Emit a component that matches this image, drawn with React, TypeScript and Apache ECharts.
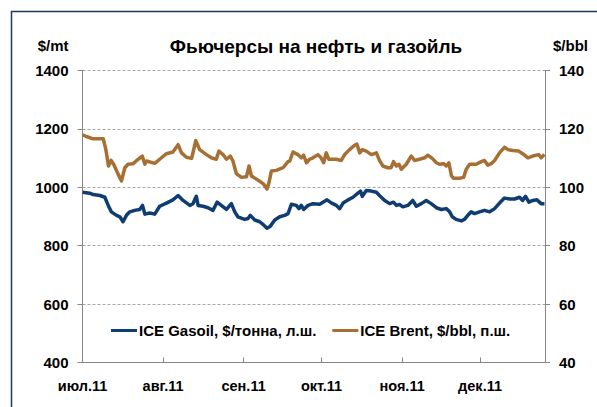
import React, { useEffect, useRef } from 'react';
import * as echarts from 'echarts';

// x values are calendar days counted from 1 July 2011
const monthStarts = [0, 31, 62, 92, 123, 153];
const monthLabels = ['июл.11', 'авг.11', 'сен.11', 'окт.11', 'ноя.11', 'дек.11'];

const gasoilDays = [
  0, 2.8, 4.1, 6.7, 8.6, 9.9, 11.1, 13.1, 14.4, 15.6, 16.9, 18.2, 20.1, 22, 23.1, 24, 25.9, 27.8, 29.7,
  32.3, 34.8, 36.8, 38.7, 41.3, 42.5, 43.8, 44.5, 46.4, 48.3, 50.2, 51.8, 53.4, 55.4, 57.3, 58.6, 59.8,
  62.4, 63.7, 64.6, 66.3, 68.2, 69.7, 71, 72.3, 74, 75.9, 77.8, 79.1, 80.4, 82.3, 83.3, 84.2, 85.1, 86.8,
  88.7, 91.3, 94.1, 95.9, 97.7, 99, 100.3, 102.2, 104.1, 106, 107, 107.7, 109.2, 111.2, 113.1, 114.3,
  116.3, 118.2, 119.7, 120.8, 122, 123.3, 125.2, 127.1, 128.5, 130.4, 132.3, 134.2, 136.2, 138.1, 140,
  141.3, 142.3, 143.8, 145.8, 147, 148.3, 149.6, 150.9, 152.8, 154.7, 156.7, 158.6, 160.5, 162.4, 164.4,
  166.3, 168.2, 169.4, 170.5, 171.8, 173.3, 174.9, 176.5, 177.8,
];
const gasoilValues = [
  983, 980, 975, 972, 966, 938, 916, 904, 899, 882, 904, 916, 921, 924, 938, 908, 912, 908, 935,
  946, 957, 972, 955, 938, 944, 969, 938, 935, 930, 921, 949, 938, 924, 944, 916, 899,
  890, 893, 904, 888, 882, 871, 860, 867, 888, 899, 904, 910, 942, 938, 927, 938, 924, 938,
  944, 942, 957, 946, 938, 927, 946, 957, 966, 980, 987, 969, 989, 987, 983, 972,
  955, 944, 949, 938, 941, 933, 938, 955, 935, 944, 955, 944, 930, 924, 927,
  916, 899, 890, 885, 890, 904, 916, 910, 916, 921, 916, 927, 946, 963, 960,
  960, 966, 955, 969, 949, 955, 957, 944, 944,
];

const brentDays = [
  0, 1.5, 4, 8, 9, 10, 11, 12, 13.7, 15, 16.3, 17.5, 19.5, 21.4, 23, 24, 24.6, 27.8, 29.7, 32.3, 34.8,
  36.8, 38.1, 40, 42, 43.6, 45.1, 47.7, 49.6, 51.5, 52.5, 54.1, 55.4, 56.9, 57.9, 59.2, 61.2, 63.1, 64.1,
  65, 66.9, 68.8, 69.7, 71, 71.8, 72.7, 74.6, 77.2, 79.1, 79.8, 81, 82.9, 84.2, 85.1, 86.2, 87.4, 88.7,
  90.6, 91.8, 92.8, 93.8, 94.8, 97.7, 99.6, 100.9, 102.8, 104.7, 105.6, 106.7, 107.7, 109.2, 111.2, 113.1,
  114.3, 115.6, 117.5, 118.8, 119.7, 120.8, 121.8, 122.7, 124.6, 126.5, 127.8, 129.7, 131.7, 132.9, 134.6,
  136.2, 137.4, 139, 140, 141, 142, 142.8, 145.1, 146.7, 147.7, 149, 151.5, 153.5, 154.7, 156, 157.3,
  158.6, 160.5, 162.4, 163.7, 165.6, 167.9, 169.4, 171.4, 173.3, 175.6, 176.5, 177.8,
];
const brentValues = [
  118.0, 117.4, 116.6, 116.6, 112.9, 107.3, 109.2, 107.9, 104.5, 102.2, 106.7, 107.9, 108.1, 109.6, 110.7,
  107.9, 109.0, 108.2, 109.6, 111.5, 112.1, 114.6, 111.8, 110.3, 109.9, 116.0, 112.9, 111.2, 110.1, 109.6,
  112.4, 111.2, 109.6, 110.7, 109.0, 104.7, 103.4, 103.6, 107.3, 103.9, 102.8, 101.7, 101.1, 99.4, 101.7,
  105.6, 105.8, 106.7, 108.8, 109.0, 112.1, 111.2, 110.1, 111.0, 108.4, 109.6, 110.1, 111.2, 110.1, 108.4,
  111.8, 109.6, 109.6, 109.2, 111.2, 112.9, 114.4, 114.8, 111.8, 112.9, 112.4, 111.2, 111.8, 109.2, 107.3,
  106.7, 106.7, 108.8, 107.3, 107.9, 106.2, 107.9, 110.7, 109.2, 109.6, 110.1, 111.0, 109.9, 108.4, 107.9,
  108.1, 107.3, 108.4, 103.9, 103.1, 103.1, 103.4, 106.2, 107.9, 107.9, 108.8, 109.2, 107.6, 108.1, 109.2,
  111.8, 113.7, 112.9, 112.6, 112.4, 111.5, 110.1, 110.7, 111.2, 110.1, 111.2,
];

const FONT = '"Liberation Sans", Arial, sans-serif';
const AXIS_GRAY = '#868686';

export default function App() {
  const ref = useRef<HTMLDivElement>(null);
  useEffect(() => {
    if (!ref.current) return;
    const chart = echarts.init(ref.current, undefined, { renderer: 'svg' });
    const labelStyle = { color: '#000', fontWeight: 'bold' as const, fontSize: 15, fontFamily: FONT };
    chart.setOption({
      animation: false,
      backgroundColor: '#fff',
      textStyle: { fontFamily: FONT },
      title: {
        text: 'Фьючерсы на нефть и газойль',
        left: 311,
        textAlign: 'center',
        top: 32,
        textStyle: { color: '#000', fontWeight: 'bold', fontSize: 19, fontFamily: FONT },
      },
      graphic: [
        {
          type: 'rect',
          shape: { x: 11.5, y: 11.5, width: 700, height: 500 },
          style: { fill: 'none', stroke: '#1F3864', lineWidth: 1.5 },
          silent: true,
        },
      ],
      legend: {
        left: 106,
        top: 318,
        icon: 'rect',
        itemWidth: 26,
        itemHeight: 3,
        itemGap: 16,
        textStyle: { ...labelStyle, padding: [0, 0, 0, -3] },
        data: ['ICE Gasoil, $/тонна, л.ш.', 'ICE Brent, $/bbl, п.ш.'],
      },
      grid: { left: 82.5, right: 52, top: 70.5, bottom: 44.5, containLabel: false },
      xAxis: {
        type: 'value',
        min: 0,
        max: 178,
        splitLine: { show: false },
        axisLine: { lineStyle: { color: AXIS_GRAY, width: 1 } },
        axisTick: { customValues: monthStarts, inside: true, length: 5, lineStyle: { color: AXIS_GRAY } },
        axisLabel: {
          ...labelStyle,
          fontSize: 14.5,
          customValues: monthStarts,
          margin: 16,
          formatter: (v: number) => monthLabels[monthStarts.indexOf(v)] ?? '',
        },
      },
      yAxis: [
        {
          type: 'value',
          min: 400,
          max: 1400,
          interval: 200,
          position: 'left',
          name: '$/mt',
          nameLocation: 'end',
          nameGap: 18,
          nameTextStyle: { ...labelStyle, align: 'right', padding: [0, 14, 0, 0] },
          axisLine: { show: true, lineStyle: { color: AXIS_GRAY, width: 1 } },
          axisTick: { show: true, inside: false, length: 5, lineStyle: { color: AXIS_GRAY } },
          axisLabel: { ...labelStyle, margin: 14, formatter: (v: number) => String(v) },
          splitLine: { show: true, lineStyle: { color: '#a6a6a6', type: [3, 2], width: 1 } },
        },
        {
          type: 'value',
          min: 40,
          max: 140,
          interval: 20,
          position: 'right',
          name: '$/bbl',
          nameLocation: 'end',
          nameGap: 18,
          nameTextStyle: { ...labelStyle, align: 'left', padding: [0, 0, 0, 8] },
          axisLine: { show: true, lineStyle: { color: AXIS_GRAY, width: 1 } },
          axisTick: { show: true, inside: false, length: 5, lineStyle: { color: AXIS_GRAY } },
          axisLabel: { ...labelStyle, margin: 14, formatter: (v: number) => String(v) },
          splitLine: { show: false },
        },
      ],
      series: [
        {
          name: 'ICE Gasoil, $/тонна, л.ш.',
          type: 'line',
          yAxisIndex: 0,
          symbol: 'none',
          color: '#0F3D73',
          lineStyle: { width: 3.5, color: '#0F3D73', join: 'round' },
          data: gasoilDays.map((d, i) => [d, gasoilValues[i]]),
        },
        {
          name: 'ICE Brent, $/bbl, п.ш.',
          type: 'line',
          yAxisIndex: 1,
          symbol: 'none',
          color: '#A66F34',
          lineStyle: { width: 3.5, color: '#A66F34', join: 'round' },
          data: brentDays.map((d, i) => [d, brentValues[i]]),
        },
      ],
    });
    return () => chart.dispose();
  }, []);
  return (
    <div
      ref={ref}
      style={{ position: 'fixed', left: 0, top: 0, width: 597, height: 407, background: '#fff' }}
    />
  );
}
